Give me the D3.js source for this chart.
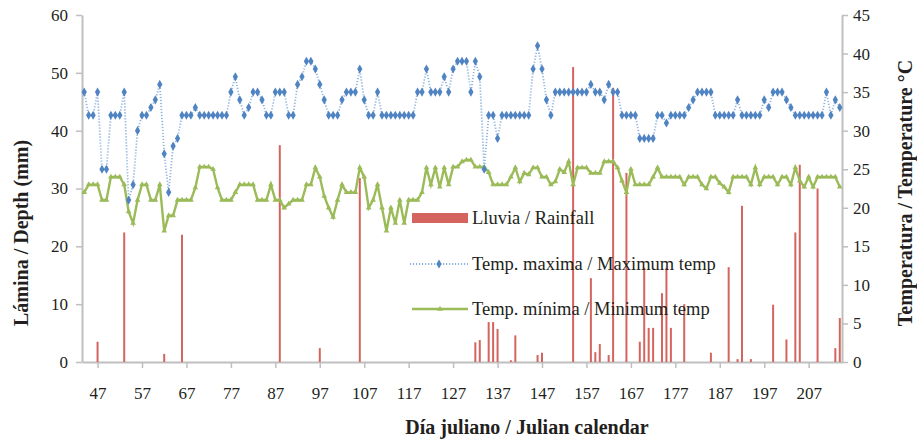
<!DOCTYPE html>
<html>
<head>
<meta charset="utf-8">
<script src="https://cdn.jsdelivr.net/npm/d3@7/dist/d3.min.js"></script>
<style>
  body { margin: 0; background: #fff; }
  text { font-family: 'Liberation Serif', 'DejaVu Serif', serif; fill: #231f20; }
</style>
</head>
<body>
<svg id="chart" width="917" height="443"></svg>
<script>
// daily series, first value is julian day 44
const firstDay = 44;

const maxTemp = [
  35, 32, 32, 35, 25, 25, 32, 32, 32, 35,
  21, 23, 30, 32, 32, 33, 34, 36, 27, 22,
  28, 29, 32, 32, 32, 33, 32, 32, 32, 32,
  32, 32, 32, 35, 37, 34, 32, 33, 35, 35,
  34, 32, 32, 35, 35, 35, 32, 32, 36, 37,
  39, 39, 38, 36, 34, 32, 32, 32, 34, 35,
  35, 35, 38, 34, 32, 32, 35, 32, 32, 32,
  32, 32, 32, 32, 32, 35, 35, 38, 35, 35,
  35, 37, 35, 38, 39, 39, 39, 35, 39, 37,
  25, 32, 32, 29, 32, 32, 32, 32, 32, 32,
  32, 38, 41, 38, 34, 32, 35, 35, 35, 35,
  35, 35, 35, 35, 36, 35, 35, 34, 36, 35,
  35, 32, 32, 32, 32, 29, 29, 29, 29, 32,
  32, 31, 32, 32, 32, 32, 33, 34, 35, 35,
  35, 35, 32, 32, 32, 32, 32, 34, 32, 32,
  32, 32, 32, 34, 33, 35, 35, 35, 34, 33,
  32, 32, 32, 32, 32, 32, 32, 35, 32, 34,
  33
];

const minTemp = [
  22, 23, 23, 23, 21, 21, 24, 24, 24, 23,
  19.5, 18, 21, 23, 23, 21, 21, 23, 17, 19,
  19, 21, 21, 21, 21, 22.6, 25.3, 25.3, 25.3, 25,
  22.6, 21, 21, 21, 22, 23, 23, 23, 23, 21,
  21, 21, 23, 21, 21, 20, 20.5, 21, 21, 21,
  23, 23, 25.2, 24, 21.5, 20, 18.8, 21, 23, 22,
  22, 22, 25.2, 24, 20, 21, 23, 20, 17, 20,
  18, 21, 18, 21, 21, 21, 22, 25.2, 23, 25.2,
  22.7, 25.2, 23, 25.3, 25.3, 26, 26.2, 26.2, 25.3, 25.3,
  25.3, 24.6, 23, 23, 23, 23, 24, 25.2, 23.4, 24.5,
  24.3, 25.2, 25.2, 24, 24, 23, 23.4, 25, 24.6, 26,
  23, 25.2, 25.2, 25.2, 24.5, 24.5, 24.5, 26, 26, 26,
  25.2, 23.5, 22, 25, 23, 23, 23, 23, 24, 25.2,
  24, 24, 24, 24, 24, 23, 24, 24, 24, 23,
  22.5, 24, 24, 23.2, 22.7, 22, 24, 24, 24, 24,
  23, 25.2, 23, 24, 24, 24, 23, 24, 24, 23,
  25.2, 23.5, 22.7, 24, 22.7, 24, 24, 24, 24, 24,
  22.7
];

const rainDays = [47, 53, 62, 66, 88, 97, 106, 132, 133, 135, 136, 137, 140, 141, 146,
  147, 154, 158, 159, 160, 162, 163, 166, 169, 170, 171, 172, 174, 175, 176,
  179, 185, 189, 191, 192, 194, 199, 202, 204, 205, 209, 213, 214];
const rainMm = [3.5, 22.4, 1.4, 22, 37.5, 2.4, 31.8, 3.4, 3.8, 6.9, 6.9, 5.7, 0.3, 4.6, 1.2,
  1.6, 51, 14.5, 1.7, 3.1, 1.2, 47.4, 32.7, 3.5, 16.3, 5.9, 5.9, 11.9, 16.3, 5.9,
  10, 1.6, 16.4, 0.5, 27, 0.5, 9.9, 3.9, 22.4, 34.1, 30, 2.4, 7.6];

const dayTicks = [47, 57, 67, 77, 87, 97, 107, 117, 127, 137, 147, 157, 167, 177, 187, 197, 207];
const depthTicks = [0, 10, 20, 30, 40, 50, 60];
const tempTicks = [0, 5, 10, 15, 20, 25, 30, 35, 40, 45];

const legendLabels = ['Lluvia / Rainfall', 'Temp. maxima / Maximum temp', 'Temp. mínima / Minimum temp'];

const colors = {
  axis: '#bfbfbf',
  rain: '#d5645f',
  maxLine: '#8fb4e0',
  maxMark: '#4f83c2',
  min: '#9bbb59'
};

const svg = d3.select('#chart');
const plotLeft = 82, plotRight = 842, plotTop = 15, plotBottom = 362;

const x = d3.scaleLinear().domain([firstDay - 0.5, firstDay + maxTemp.length - 0.5]).range([plotLeft, plotRight]);
const yDepth = d3.scaleLinear().domain([0, 60]).range([plotBottom, plotTop]);
const yTemp = d3.scaleLinear().domain([0, 45]).range([plotBottom, plotTop]);

const maxData = maxTemp.map((v, i) => ({ day: firstDay + i, v }));
const minData = minTemp.map((v, i) => ({ day: firstDay + i, v }));
const rainData = rainDays.map((d, i) => ({ day: d, mm: rainMm[i] }));

function styleAxis(g, size) {
  g.select('.domain').attr('stroke', colors.axis).attr('stroke-width', 2);
  g.selectAll('.tick line').attr('stroke', colors.axis).attr('stroke-width', 1.5);
  g.selectAll('.tick text').style('font-size', size + 'px').attr('fill', '#231f20');
}

// axes
svg.append('g')
  .attr('transform', 'translate(' + plotLeft + ',0)')
  .call(d3.axisLeft(yDepth).tickValues(depthTicks).tickSize(6).tickSizeOuter(0).tickPadding(8))
  .call(g => styleAxis(g, 17));

svg.append('g')
  .attr('transform', 'translate(' + plotRight + ',0)')
  .call(d3.axisRight(yTemp).tickValues(tempTicks).tickSize(6).tickSizeOuter(0).tickPadding(5))
  .call(g => styleAxis(g, 17));

svg.append('g')
  .attr('transform', 'translate(0,' + plotBottom + ')')
  .call(d3.axisBottom(x).tickValues(dayTicks).tickFormat(d3.format('d')).tickSize(6).tickSizeOuter(0).tickPadding(19))
  .call(g => styleAxis(g, 17));

// rainfall bars
svg.append('g').selectAll('rect')
  .data(rainData)
  .enter()
  .append('rect')
  .attr('x', d => x(d.day) - 1)
  .attr('y', d => yDepth(d.mm))
  .attr('width', 2)
  .attr('height', d => plotBottom - yDepth(d.mm))
  .attr('fill', colors.rain);

// min temperature
const lineMin = d3.line().x(d => x(d.day)).y(d => yTemp(d.v));
svg.append('path')
  .datum(minData)
  .attr('d', lineMin)
  .attr('fill', 'none')
  .attr('stroke', colors.min)
  .attr('stroke-width', 2.4);

svg.append('g').selectAll('path')
  .data(minData)
  .enter()
  .append('path')
  .attr('transform', d => 'translate(' + x(d.day) + ',' + yTemp(d.v) + ')')
  .attr('d', d3.symbol(d3.symbolTriangle, 14))
  .attr('fill', colors.min);

// max temperature
svg.append('path')
  .datum(maxData)
  .attr('d', d3.line().x(d => x(d.day)).y(d => yTemp(d.v)))
  .attr('fill', 'none')
  .attr('stroke', colors.maxLine)
  .attr('stroke-width', 1.8)
  .attr('stroke-dasharray', '1.2,1.8');

svg.append('g').selectAll('path')
  .data(maxData)
  .enter()
  .append('path')
  .attr('transform', d => 'translate(' + x(d.day) + ',' + yTemp(d.v) + ')')
  .attr('d', d3.symbol(d3.symbolDiamond, 24))
  .attr('fill', colors.maxMark);

// legend
const legend = svg.append('g').attr('transform', 'translate(410,0)');
const rowY = [218, 264, 309];

legend.append('rect').attr('x', 2).attr('y', rowY[0] - 5).attr('width', 56).attr('height', 10).attr('fill', colors.rain);

legend.append('line').attr('x1', 0).attr('x2', 58).attr('y1', rowY[1]).attr('y2', rowY[1])
  .attr('stroke', colors.maxLine).attr('stroke-width', 1.8).attr('stroke-dasharray', '1.2,1.8');
legend.append('path').attr('transform', 'translate(29,' + rowY[1] + ')')
  .attr('d', d3.symbol(d3.symbolDiamond, 24)).attr('fill', colors.maxMark);

legend.append('line').attr('x1', 2).attr('x2', 58).attr('y1', rowY[2]).attr('y2', rowY[2])
  .attr('stroke', colors.min).attr('stroke-width', 2.4);
legend.append('path').attr('transform', 'translate(30,' + rowY[2] + ')')
  .attr('d', d3.symbol(d3.symbolTriangle, 14)).attr('fill', colors.min);

legend.selectAll('text.lbl')
  .data(legendLabels)
  .enter()
  .append('text')
  .attr('class', 'lbl')
  .attr('x', 62)
  .attr('y', (d, i) => rowY[i])
  .attr('dy', '0.35em')
  .style('font-size', '18.5px')
  .text(d => d);

// axis titles
svg.append('text')
  .attr('transform', 'translate(28,' + 233 + ') rotate(-90)')
  .attr('text-anchor', 'middle')
  .style('font-size', '20px')
  .style('font-weight', 'bold')
  .text('Lámina / Depth (mm)');

svg.append('text')
  .attr('transform', 'translate(912,' + 193 + ') rotate(-90)')
  .attr('text-anchor', 'middle')
  .style('font-size', '20px')
  .style('font-weight', 'bold')
  .text('Temperatura / Temperature °C');

svg.append('text')
  .attr('x', 527)
  .attr('y', 434)
  .attr('text-anchor', 'middle')
  .style('font-size', '20px')
  .style('font-weight', 'bold')
  .text('Día juliano / Julian calendar');
</script>
</body>
</html>
